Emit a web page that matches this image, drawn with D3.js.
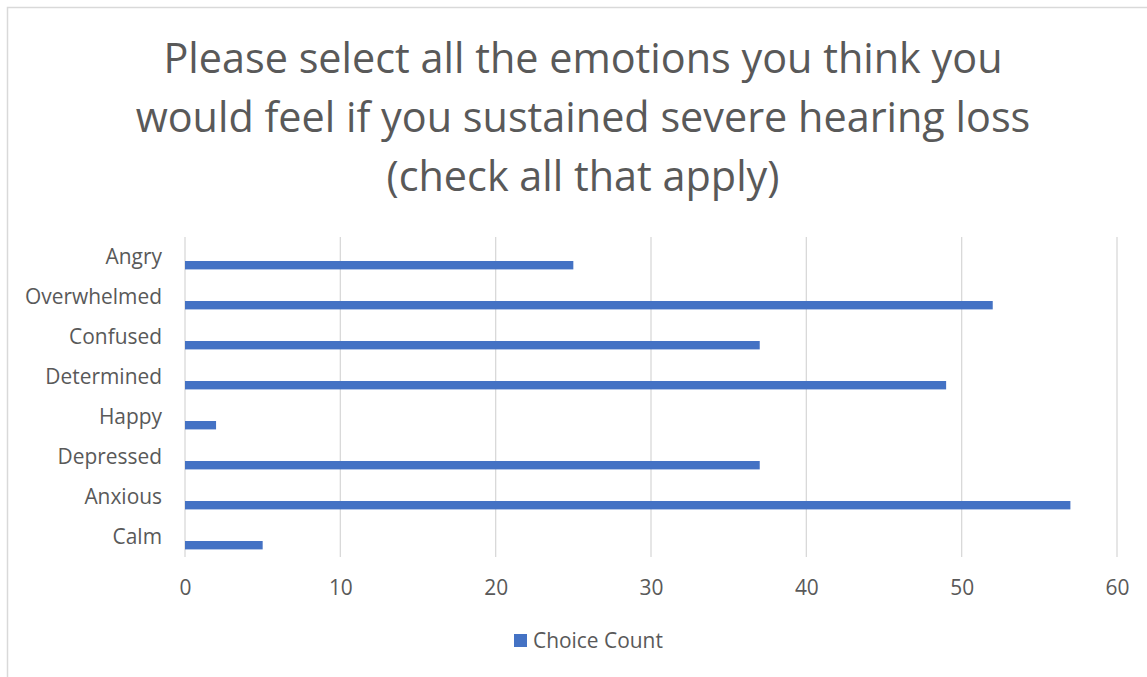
<!DOCTYPE html>
<html>
<head>
<meta charset="utf-8">
<script src="https://cdn.jsdelivr.net/npm/d3@7"></script>
<style>
  html, body { margin: 0; padding: 0; background: #ffffff; }
  svg { display: block; }
</style>
</head>
<body>
<svg id="chart" width="1147" height="677"></svg>
<script>
const categories = ["Angry", "Overwhelmed", "Confused", "Determined", "Happy", "Depressed", "Anxious", "Calm"];
const choiceCount = [25, 52, 37, 49, 2, 37, 57, 5];
const xTicks = [0, 10, 20, 30, 40, 50, 60];
const titleLines = [
  "Please select all the emotions you think you",
  "would feel if you sustained severe hearing loss",
  "(check all that apply)"
];
const seriesName = "Choice Count";

const FONT = "'Open Sans', 'Noto Sans', sans-serif";
const TEXT = "#595959";
const GRID = "#D9D9D9";
const BAR = "#4472C4";

const svg = d3.select("#chart");

// helper: fit font size to a target width
function fitSize(str, target) {
  const t = svg.append("text").attr("font-family", FONT).attr("font-size", 100).text(str);
  const w = t.node().getComputedTextLength();
  t.remove();
  return 100 * target / w;
}

const smallSize = fitSize(seriesName, 130);
const titleSize = fitSize(titleLines[1], 895);

// chart border
svg.append("rect")
  .attr("x", 7.5).attr("y", 7.5)
  .attr("width", 1150).attr("height", 690)
  .attr("fill", "#fff")
  .attr("stroke", GRID).attr("stroke-width", 1.5);

// title
const titleCx = 583;
const titleBaselines = [73, 132, 191];
svg.append("g").selectAll("text").data(titleLines).join("text")
  .attr("x", titleCx)
  .attr("y", (d, i) => titleBaselines[i])
  .attr("text-anchor", "middle")
  .attr("font-family", FONT)
  .attr("font-size", titleSize)
  .attr("fill", TEXT)
  .text(d => d);

// scales
const x = d3.scaleLinear().domain([0, 60]).range([185, 1117]);
const y = d3.scaleBand().domain(categories).range([237, 557]).paddingInner(0).paddingOuter(0);

// gridlines
svg.append("g").selectAll("line").data(xTicks).join("line")
  .attr("x1", d => x(d)).attr("x2", d => x(d))
  .attr("y1", 237).attr("y2", 557)
  .attr("stroke", GRID).attr("stroke-width", 1.3);

// bars
const barH = 8.4;
svg.append("g").selectAll("rect").data(categories).join("rect")
  .attr("x", x(0))
  .attr("y", d => y(d) + y.bandwidth() / 2 + 4)
  .attr("width", (d, i) => x(choiceCount[i]) - x(0))
  .attr("height", barH)
  .attr("fill", BAR);

// y axis labels
const yAxis = d3.axisLeft(y).tickSize(0).tickPadding(0);
const yg = svg.append("g").attr("transform", "translate(162,0)").call(yAxis);
yg.select(".domain").remove();
yg.selectAll("text")
  .attr("font-family", FONT)
  .attr("font-size", smallSize)
  .attr("fill", TEXT)
  .attr("dy", "0.35em");

// x axis labels
const xAxis = d3.axisBottom(x).tickValues(xTicks).tickSize(0).tickPadding(0).tickFormat(d3.format("d"));
const xg = svg.append("g").attr("transform", "translate(0,588)").call(xAxis);
xg.select(".domain").remove();
xg.selectAll("text")
  .attr("font-family", FONT)
  .attr("font-size", smallSize)
  .attr("fill", TEXT)
  .attr("dy", "0.35em");

// legend
const lg = svg.append("g");
lg.append("rect").attr("x", 514).attr("y", 634).attr("width", 13).attr("height", 13).attr("fill", BAR);
lg.append("text")
  .attr("x", 533).attr("y", 648)
  .attr("font-family", FONT)
  .attr("font-size", smallSize)
  .attr("fill", TEXT)
  .text(seriesName);
</script>
</body>
</html>
